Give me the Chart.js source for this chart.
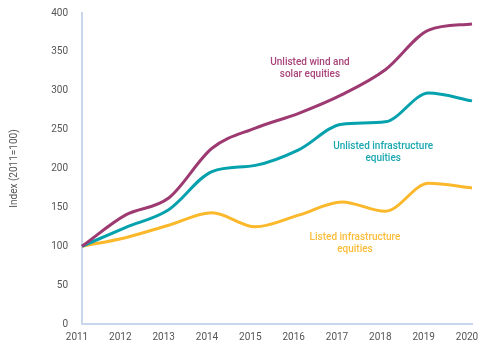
<!DOCTYPE html>
<html>
<head>
<meta charset="utf-8">
<script src="https://cdn.jsdelivr.net/npm/chart.js@4/dist/chart.umd.min.js"></script>
<style>
html,body{margin:0;padding:0;background:#fff;}
#wrap{width:480px;height:341px;position:relative;}
</style>
</head>
<body>
<div id="wrap"><canvas id="c" width="480" height="341"></canvas></div>
<script>
const years = ['2011','2012','2013','2014','2015','2016','2017','2018','2019','2020'];
const windSolar = [100, 140, 162, 226, 252, 271, 295, 327, 378, 386];
const unlistedInfra = [100, 124, 147, 196, 204, 224, 257, 260, 297, 287];
const listedInfra = [100, 111, 127, 143, 125, 140, 157, 145, 181, 175];
const seriesNames = ['Unlisted wind and solar equities', 'Unlisted infrastructure equities', 'Listed infrastructure equities'];
const yTicks = [0, 50, 100, 150, 200, 250, 300, 350, 400];

const colors = ['#9e3a72', '#05a2ad', '#fbb82b'];
const labelCols = ['#a8447a', '#1aa7b0', '#fbbd3a'];
// label anchors (category index, value)
const labelSpots = [
  {x: 5.26, y: 328, lines: ['Unlisted wind and', 'solar equities']},
  {x: 6.95, y: 220, lines: ['Unlisted infrastructure', 'equities']},
  {x: 6.3, y: 104, lines: ['Listed infrastructure', 'equities']}
];

const labelPlugin = {
  id: 'seriesLabels',
  afterDatasetsDraw(chart) {
    const ctx = chart.ctx;
    const xs = chart.scales.x, ys = chart.scales.y;
    ctx.save();
    ctx.font = '500 10px Roboto';
    ctx.textAlign = 'center';
    ctx.textBaseline = 'middle';
    labelSpots.forEach((s, i) => {
      const px = xs.getPixelForValue(s.x);
      const py = ys.getPixelForValue(s.y);
      ctx.fillStyle = labelCols[i];
      ctx.fillText(s.lines[0], px, py - 6);
      ctx.fillText(s.lines[1], px, py + 6);
    });
    ctx.restore();
  }
};

const mk = (label, data, c) => ({
  label, data, borderColor: c, backgroundColor: c, borderWidth: 3,
  pointRadius: 0, tension: 0.4, cubicInterpolationMode: 'monotone', fill: false
});

new Chart(document.getElementById('c'), {
  type: 'line',
  data: {
    labels: years,
    datasets: [
      mk(seriesNames[0], windSolar, colors[0]),
      mk(seriesNames[1], unlistedInfra, colors[1]),
      mk(seriesNames[2], listedInfra, colors[2])
    ]
  },
  options: {
    responsive: false,
    animation: false,
    layout: {padding: {top: 13, right: 8, left: 0, bottom: 0}},
    plugins: {legend: {display: false}, tooltip: {enabled: false}},
    scales: {
      x: {
        type: 'category',
        offset: false,
        grid: {display: false, drawTicks: false},
        border: {color: '#c9d7ec', width: 2},
        ticks: {color: '#555', font: {family: 'Roboto', size: 10}, padding: 7, labelOffset: -5, maxRotation: 0, autoSkip: false},
        afterFit(s) { s.height = 17; s.paddingLeft = 0; s.paddingRight = 0; }
      },
      y: {
        min: 0, max: 400,
        afterBuildTicks(axis) { axis.ticks = yTicks.map(v => ({value: v})); },
        grid: {display: false, drawTicks: false},
        border: {color: '#c9d7ec', width: 2},
        ticks: {color: '#555', font: {family: 'Roboto', size: 10}, padding: 14},
        title: {display: true, text: 'Index (2011=100)', color: '#555', font: {family: 'Roboto', size: 10}, padding: {top: 8, bottom: 0}},
        afterFit(s) { s.width = 82; s.paddingTop = 0; s.paddingBottom = 0; }
      }
    }
  },
  plugins: [labelPlugin]
});
</script>
</body>
</html>
